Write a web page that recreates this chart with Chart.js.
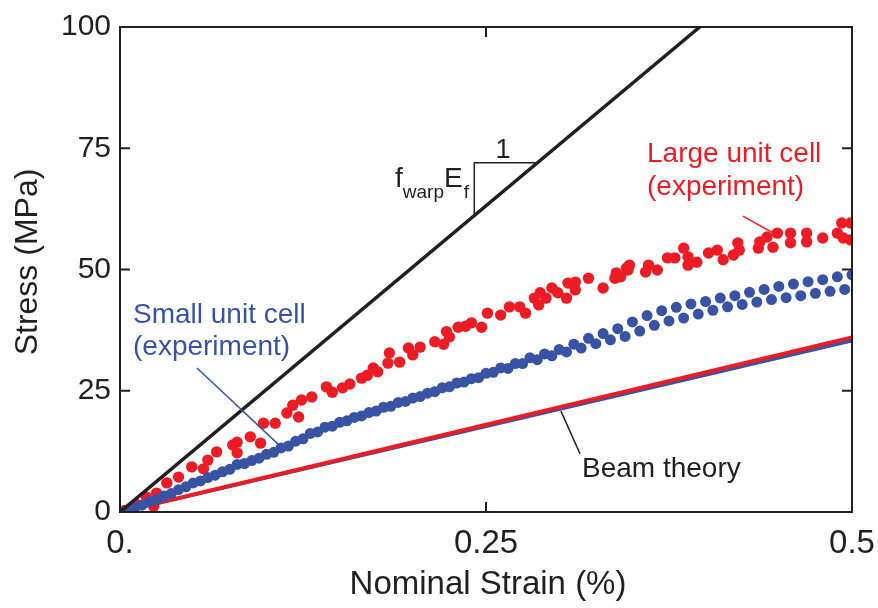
<!DOCTYPE html>
<html>
<head>
<meta charset="utf-8">
<script src="https://cdn.jsdelivr.net/npm/chart.js@4.4.1/dist/chart.umd.min.js"></script>
<style>
  html, body { margin: 0; padding: 0; background: #fff; }
  canvas { display: block; }
</style>
</head>
<body>
<canvas id="chart" width="878" height="608"></canvas>
<script>
// axis ticks
const xTicks = [0, 0.25, 0.5];
const xTickLabels = ["0.", "0.25", "0.5"];
const yTicks = [0, 25, 50, 75, 100];
const yTickLabels = ["0", "25", "50", "75", "100"];

// upper bound line (f_warp * E_f)
const boundStrain = [0, 0.396];
const boundStress = [0, 100];

// beam theory lines
const beamStrain = [0, 0.5];
const beamLargeStress = [0, 36.0];
const beamSmallStress = [0, 35.3];

// small unit cell (experiment), two passes
const smallAStrain = [0, 0.01, 0.02, 0.03, 0.04, 0.05, 0.06, 0.07, 0.08, 0.09,
  0.10, 0.11, 0.12, 0.13, 0.14, 0.15, 0.16, 0.17, 0.18, 0.19,
  0.20, 0.21, 0.22, 0.23, 0.24, 0.25, 0.26, 0.27, 0.28, 0.29,
  0.30, 0.31, 0.32, 0.33, 0.34, 0.35, 0.36, 0.37, 0.38, 0.39,
  0.40, 0.41, 0.42, 0.43, 0.44, 0.45, 0.46, 0.47, 0.48, 0.49, 0.50];
const smallAStress = [0, 0.9, 2.1, 3.3, 4.6, 6.0, 7.1, 8.3, 9.8, 10.6,
  11.9, 13.2, 14.6, 16.2, 17.5, 18.5, 19.5, 20.5, 21.6, 22.6,
  23.5, 24.5, 25.6, 26.6, 27.5, 28.6, 29.7, 30.6, 31.8, 32.6,
  33.5, 34.6, 35.8, 36.8, 37.8, 39.2, 40.5, 41.5, 42.2, 42.9,
  43.4, 44.1, 44.6, 45.3, 45.9, 46.5, 47.0, 47.5, 47.9, 48.5, 48.9];
const smallBStrain = [0.005, 0.015, 0.025, 0.035, 0.045, 0.055, 0.065, 0.075, 0.085, 0.095,
  0.105, 0.115, 0.125, 0.135, 0.145, 0.155, 0.165, 0.175, 0.185, 0.195,
  0.205, 0.215, 0.225, 0.235, 0.245, 0.255, 0.265, 0.275, 0.285, 0.295,
  0.305, 0.315, 0.325, 0.335, 0.345, 0.355, 0.365, 0.375, 0.385, 0.395,
  0.405, 0.415, 0.425, 0.435, 0.445, 0.455, 0.465, 0.475, 0.485, 0.495];
const smallBStress = [0.3, 1.4, 2.6, 3.8, 5.2, 6.4, 7.6, 8.8, 10.0, 11.1,
  12.3, 13.6, 15.1, 16.5, 17.7, 18.8, 19.8, 20.8, 21.8, 22.8,
  23.8, 24.8, 25.8, 26.8, 27.7, 28.8, 29.6, 30.6, 31.4, 32.2,
  33.0, 33.8, 34.7, 35.5, 36.2, 37.3, 38.5, 39.4, 40.0, 40.8,
  41.6, 42.3, 42.8, 43.3, 43.8, 44.2, 44.6, 45.1, 45.5, 45.9];

// large unit cell (experiment)
const largeStrain = [0.003, 0.012, 0.018, 0.023, 0.025, 0.032, 0.040, 0.049, 0.057, 0.060,
  0.066, 0.077, 0.080, 0.080, 0.089, 0.096, 0.098, 0.106, 0.114, 0.118,
  0.122, 0.124, 0.131, 0.141, 0.145, 0.152, 0.157, 0.165, 0.169, 0.173,
  0.176, 0.183, 0.184, 0.191, 0.197, 0.200, 0.205, 0.215, 0.221, 0.223,
  0.225, 0.231, 0.236, 0.240, 0.247, 0.251, 0.260, 0.266, 0.273, 0.277,
  0.283, 0.286, 0.287, 0.291, 0.295, 0.299, 0.305, 0.306, 0.311, 0.311,
  0.320, 0.330, 0.338, 0.339, 0.342, 0.346, 0.347, 0.348, 0.359, 0.361,
  0.367, 0.374, 0.379, 0.385, 0.388, 0.388, 0.394, 0.402, 0.408, 0.412,
  0.419, 0.422, 0.423, 0.436, 0.437, 0.442, 0.446, 0.449, 0.458, 0.458,
  0.469, 0.469, 0.480, 0.490, 0.493, 0.494, 0.499, 0.499];
const largeStress = [0.3, 1.5, 3.1, 1.2, 3.9, 6.0, 7.2, 9.3, 8.9, 10.7,
  12.4, 13.8, 14.4, 12.2, 15.5, 14.2, 18.3, 18.3, 20.4, 22.0,
  19.6, 23.1, 23.7, 25.8, 24.7, 25.6, 26.4, 27.6, 28.2, 29.7,
  28.9, 30.7, 32.8, 30.9, 33.8, 32.4, 34.0, 35.1, 34.6, 37.2,
  36.1, 38.1, 38.3, 39.0, 38.1, 41.0, 40.6, 42.3, 42.3, 41.0,
  44.1, 42.7, 45.2, 44.1, 46.2, 45.2, 44.1, 47.2, 47.4, 45.8,
  48.2, 46.2, 48.2, 49.3, 48.5, 50.3, 49.9, 50.9, 49.5, 50.9,
  49.9, 52.4, 52.4, 54.4, 52.6, 50.9, 51.5, 53.4, 54.0, 52.0,
  53.0, 55.5, 54.0, 54.4, 55.7, 56.7, 54.6, 57.5, 57.5, 55.5,
  57.5, 55.7, 56.5, 57.5, 59.6, 56.5, 59.6, 56.1];

const BLACK = "#231f20";
const RED = "#ed1c24";
const BLUE = "#3953a4";
const FONT = "'Liberation Sans', Arial, Helvetica, sans-serif";

const pts = (xs, ys) => xs.map((x, i) => ({ x: x, y: ys[i] }));

// box, inward ticks, axis titles and annotations
const decorations = {
  id: "decorations",
  afterDraw(chart) {
    const ctx = chart.ctx;
    const xs = chart.scales.x;
    const ys = chart.scales.y;
    const a = chart.chartArea;
    const px = (v) => xs.getPixelForValue(v);
    const py = (v) => ys.getPixelForValue(v);

    ctx.save();
    ctx.strokeStyle = BLACK;
    ctx.lineWidth = 2;
    ctx.strokeRect(a.left, a.top, a.right - a.left, a.bottom - a.top);
    ctx.beginPath();
    yTicks.forEach((v) => {
      ctx.moveTo(a.left, py(v));
      ctx.lineTo(a.left + 10, py(v));
      ctx.moveTo(a.right, py(v));
      ctx.lineTo(a.right - 10, py(v));
    });
    xTicks.forEach((v) => {
      ctx.moveTo(px(v), a.bottom);
      ctx.lineTo(px(v), a.bottom - 10);
      ctx.moveTo(px(v), a.top);
      ctx.lineTo(px(v), a.top + 10);
    });
    ctx.stroke();

    // axis titles
    ctx.fillStyle = BLACK;
    ctx.font = "33px " + FONT;
    ctx.textAlign = "center";
    ctx.textBaseline = "alphabetic";
    ctx.fillText("Nominal Strain (%)", (a.left + a.right) / 2 + 2, 594);
    ctx.save();
    ctx.translate(37, 262);
    ctx.rotate(-Math.PI / 2);
    ctx.font = "32px " + FONT;
    ctx.fillText("Stress (MPa)", 0, 0);
    ctx.restore();

    // slope triangle on the bound line
    const slope = boundStress[1] / boundStrain[1];
    const tx = 0.242, tTop = 72;
    ctx.lineWidth = 1.5;
    ctx.beginPath();
    ctx.moveTo(px(tx), py(tx * slope));
    ctx.lineTo(px(tx), py(tTop));
    ctx.lineTo(px(tTop / slope), py(tTop));
    ctx.stroke();

    ctx.textAlign = "center";
    ctx.font = "27px " + FONT;
    ctx.fillText("1", 503, 158);
    ctx.textAlign = "left";
    let x = 395;
    ctx.font = "28px " + FONT;
    ctx.fillText("f", x, 187);
    x += ctx.measureText("f").width;
    ctx.font = "19px " + FONT;
    ctx.fillText("warp", x, 198);
    x += ctx.measureText("warp").width;
    ctx.font = "28px " + FONT;
    ctx.fillText("E", x, 187);
    x += ctx.measureText("E").width;
    ctx.font = "19px " + FONT;
    ctx.fillText("f", x + 1, 198);

    // labels with leader lines
    ctx.font = "28px " + FONT;
    ctx.lineWidth = 1.5;

    ctx.fillStyle = BLUE;
    ctx.strokeStyle = BLUE;
    ctx.fillText("Small unit cell", 133, 323);
    ctx.fillText("(experiment)", 133, 355);
    ctx.beginPath();
    ctx.moveTo(px(0.0526), py(29.7));
    ctx.lineTo(px(0.108), py(14.0));
    ctx.stroke();

    ctx.fillStyle = RED;
    ctx.strokeStyle = RED;
    ctx.fillText("Large unit cell", 647, 162);
    ctx.fillText("(experiment)", 647, 195);
    ctx.beginPath();
    ctx.moveTo(px(0.4255), py(61.0));
    ctx.lineTo(px(0.4488), py(57.1));
    ctx.stroke();

    ctx.fillStyle = BLACK;
    ctx.strokeStyle = BLACK;
    ctx.fillText("Beam theory", 582, 477);
    ctx.beginPath();
    ctx.moveTo(px(0.3012), py(20.8));
    ctx.lineTo(px(0.3142), py(12.0));
    ctx.stroke();
    ctx.restore();
  },
};

new Chart(document.getElementById("chart"), {
  type: "scatter",
  data: {
    datasets: [
      {
        label: "Bound",
        type: "line",
        data: pts(boundStrain, boundStress),
        borderColor: BLACK,
        borderWidth: 3.5,
        pointRadius: 0,
        order: 0,
      },
      {
        label: "Small unit cell A",
        data: pts(smallAStrain, smallAStress),
        backgroundColor: BLUE,
        borderWidth: 0,
        pointRadius: 5.5,
        order: 1,
      },
      {
        label: "Small unit cell B",
        data: pts(smallBStrain, smallBStress),
        backgroundColor: BLUE,
        borderWidth: 0,
        pointRadius: 5.5,
        order: 2,
      },
      {
        label: "Large unit cell",
        data: pts(largeStrain, largeStress),
        backgroundColor: RED,
        borderWidth: 0,
        pointRadius: 5.7,
        order: 3,
      },
      {
        label: "Beam theory (large)",
        type: "line",
        data: pts(beamStrain, beamLargeStress),
        borderColor: RED,
        borderWidth: 4,
        pointRadius: 0,
        order: 4,
      },
      {
        label: "Beam theory (small)",
        type: "line",
        data: pts(beamStrain, beamSmallStress),
        borderColor: BLUE,
        borderWidth: 3.5,
        pointRadius: 0,
        order: 5,
      },
    ],
  },
  options: {
    responsive: false,
    animation: false,
    devicePixelRatio: 1,
    layout: { padding: { top: 27, right: 26, left: 0, bottom: 0 } },
    plugins: { legend: { display: false }, tooltip: { enabled: false } },
    scales: {
      x: {
        type: "linear",
        min: 0,
        max: 0.5,
        afterFit: (s) => { s.height = 96; s.paddingLeft = 0; s.paddingRight = 0; },
        afterBuildTicks: (s) => { s.ticks = xTicks.map((v) => ({ value: v })); },
        grid: { display: false, drawTicks: false },
        border: { display: false },
        ticks: {
          color: BLACK,
          padding: 12,
          font: { family: FONT, size: 33 },
          callback: (v) => xTickLabels[xTicks.indexOf(v)],
        },
      },
      y: {
        type: "linear",
        min: 0,
        max: 100,
        afterFit: (s) => { s.width = 120; s.paddingTop = 0; s.paddingBottom = 0; },
        afterBuildTicks: (s) => { s.ticks = yTicks.map((v) => ({ value: v })); },
        grid: { display: false, drawTicks: false },
        border: { display: false },
        ticks: {
          color: BLACK,
          padding: 9,
          font: { family: FONT, size: 30 },
          callback: (v) => yTickLabels[yTicks.indexOf(v)],
        },
      },
    },
  },
  plugins: [decorations],
});
</script>
</body>
</html>
